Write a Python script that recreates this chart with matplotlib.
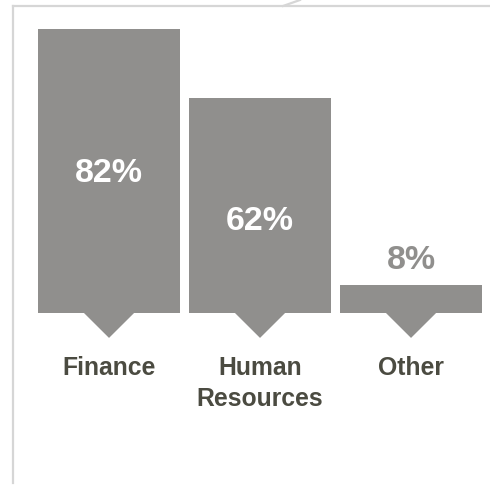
import matplotlib
matplotlib.use("Agg")
import matplotlib.pyplot as plt
from matplotlib.patches import Polygon
from matplotlib.lines import Line2D

# chart data
categories = ["Finance", "Human\nResources", "Other"]
values = [82, 62, 8]
value_labels = ["82%", "62%", "8%"]

BAR_COLOR = "#908f8d"
LABEL_COLOR = "#4b4b41"
FRAME_COLOR = "#d6d6d6"
W, H = 490, 486

plt.rcParams['font.family'] = ['Liberation Sans', 'DejaVu Sans']

fig = plt.figure(figsize=(W / 100, H / 100), dpi=100)
ax = fig.add_axes([0, 0, 1, 1])
ax.set_xlim(-0.722, 2.523)
ax.set_ylim(-49.96, 90.38)
ax.axis("off")

x = list(range(len(categories)))
ax.bar(x, values, width=0.94, color=BAR_COLOR, linewidth=0)

# pointer triangle under each bar
tri_w, tri_h = 0.166, 7.2
for xi in x:
    ax.add_patch(Polygon([(xi - tri_w, 0), (xi + tri_w, 0), (xi, -tri_h)],
                         closed=True, color=BAR_COLOR, linewidth=0))

for xi, v, lab in zip(x, values, value_labels):
    if v > 20:
        ax.text(xi, 0.7 * v - 17, lab, ha="center", va="center",
                color="white", fontsize=24.5, fontweight="bold")
    else:
        ax.text(xi, v + 2.6, lab, ha="center", va="bottom",
                color=BAR_COLOR, fontsize=24.5, fontweight="bold")

for xi, cat in zip(x, categories):
    ax.text(xi, -12.4, cat, ha="center", va="top", color=LABEL_COLOR,
            fontsize=17.8, fontweight="bold", linespacing=1.38)

# frame lines (pixel coordinates from top-left)
def px(xp, yp):
    return xp / W, 1 - yp / H

for (x0, y0), (x1, y1) in [((12.5, 6), (490, 6)), ((12.5, 6), (12.5, 483)),
                           ((283, 6), (300, 0))]:
    a, b = px(x0, y0)
    c, d = px(x1, y1)
    fig.add_artist(Line2D([a, c], [b, d], transform=fig.transFigure,
                          color=FRAME_COLOR, linewidth=1.6))

fig.savefig("out.png", dpi=100)
